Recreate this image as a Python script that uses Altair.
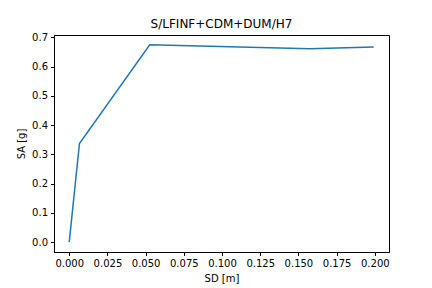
import altair as alt
import pandas as pd

sd = [0.0, 0.0067, 0.0527, 0.1575, 0.1993]
sa = [0.0, 0.337, 0.674, 0.661, 0.667]
x_ticks = [0.0, 0.025, 0.05, 0.075, 0.1, 0.125, 0.15, 0.175, 0.2]
y_ticks = [0.0, 0.1, 0.2, 0.3, 0.4, 0.5, 0.6, 0.7]

df = pd.DataFrame({"SD": sd, "SA": sa, "order": list(range(len(sd)))})

font = "DejaVu Sans"

chart = alt.Chart(df).mark_line(color="#1f77b4", strokeWidth=1.5, clip=True).encode(
    x=alt.X("SD:Q", scale=alt.Scale(domain=[-0.00997, 0.2093], nice=False, zero=False),
            axis=alt.Axis(values=x_ticks, format=".3f", title="SD [m]", grid=False,
                          tickSize=3.5, tickColor="black", domainColor="black",
                          labelFont=font, labelFontSize=10, labelColor="black",
                          titleFont=font, titleFontSize=10, titleFontWeight="normal",
                          titleColor="black", labelPadding=3, titlePadding=5)),
    y=alt.Y("SA:Q", scale=alt.Scale(domain=[-0.0337, 0.7077], nice=False, zero=False),
            axis=alt.Axis(values=y_ticks, format=".1f", title="SA [g]", grid=False,
                          tickSize=3.5, tickColor="black", domainColor="black",
                          labelFont=font, labelFontSize=10, labelColor="black",
                          titleFont=font, titleFontSize=10, titleFontWeight="normal",
                          titleColor="black", labelPadding=3, titlePadding=5)),
    order="order:Q",
).properties(
    width=335, height=217,
    title=alt.TitleParams("S/LFINF+CDM+DUM/H7", font=font, fontSize=12,
                          fontWeight="normal", color="black", offset=1),
    autosize=alt.AutoSizeParams(type="none"),
    padding={"left": 54, "top": 35, "right": 43, "bottom": 36},
).configure_view(stroke="black", strokeWidth=1)

chart.save("out.html", embed_options={"renderer": "svg", "actions": False})
